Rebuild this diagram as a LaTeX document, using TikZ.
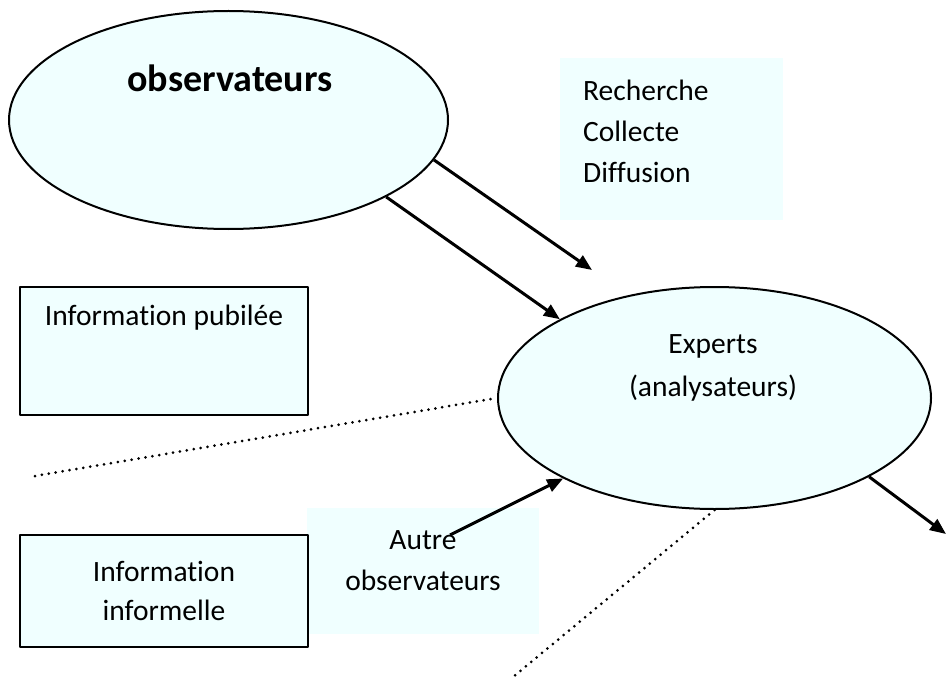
\documentclass[tikz,border=0pt]{standalone}
\usepackage{fontspec}
\setmainfont{Carlito}[Ligatures=NoCommon]
\usetikzlibrary{shapes.geometric,arrows.meta}
\definecolor{azur}{RGB}{240,255,255}
\begin{document}
\begin{tikzpicture}[x=1pt,y=-1pt,>={Triangle[length=16pt,width=13pt]},line join=round,
  bulle/.style={ellipse,draw,line width=2pt,fill=azur,inner sep=0pt},
  cadre/.style={rectangle,draw,line width=2.2pt,fill=azur,inner sep=0pt,align=center,font=\fontsize{29.5}{39}\selectfont},
  fond/.style={rectangle,fill=azur,inner sep=0pt},
  txt/.style={inner sep=0pt,font=\fontsize{29.5}{41}\selectfont},
  fleche/.style={->,line width=3pt},
  pointille/.style={line width=3pt,line cap=round,dash pattern=on 0pt off 7pt}]
\useasboundingbox (0,0) rectangle (947,682);
\node[fond,minimum width=223pt,minimum height=162pt] (rcd) at (671.5,139) {};
\node[txt,align=left,anchor=west] (rcdtxt) at (583,131) {Recherche\\Collecte\\Diffusion};
\node[fond,minimum width=232pt,minimum height=126pt] (aut) at (423,571) {};
\node[txt,align=center] (auttxt) at (423,561) {Autre\\observateurs};
\node[bulle,minimum width=439pt,minimum height=218pt] (obs) at (228.5,120) {};
\node[inner sep=0pt,font=\bfseries\fontsize{38}{44}\selectfont] (obstxt) at (230,78) {observateurs};
\node[bulle,minimum width=433pt,minimum height=222pt] (exp) at (714.5,398) {};
\node[txt,align=center,font=\fontsize{29.5}{43}\selectfont] (exptxt) at (713,368) {Experts\\(analysateurs)};
\node[cadre,minimum width=288pt,minimum height=128pt] (pub) at (164,351) {};
\node[txt] (pubtxt) at (164,318) {Information pubilée};
\node[cadre,minimum width=288pt,minimum height=112pt] (inf) at (164,591) {Information\\informelle};
\coordinate (c1) at (592,270);
\coordinate (c2) at (450,535);
\coordinate (c3) at (946,534);
\coordinate (c4) at (35,476);
\coordinate (c5) at (513,677);
\draw[fleche] (obs.-11.5)--(c1);
\draw[fleche] (obs.-26)--(exp.153);
\draw[fleche] (c2)--(exp.-152.6);
\draw[fleche] (exp.-27.4)--(c3);
\draw[pointille] (c4)--(exp.west);
\draw[pointille] (exp.south)--(c5);
\end{tikzpicture}
\end{document}
